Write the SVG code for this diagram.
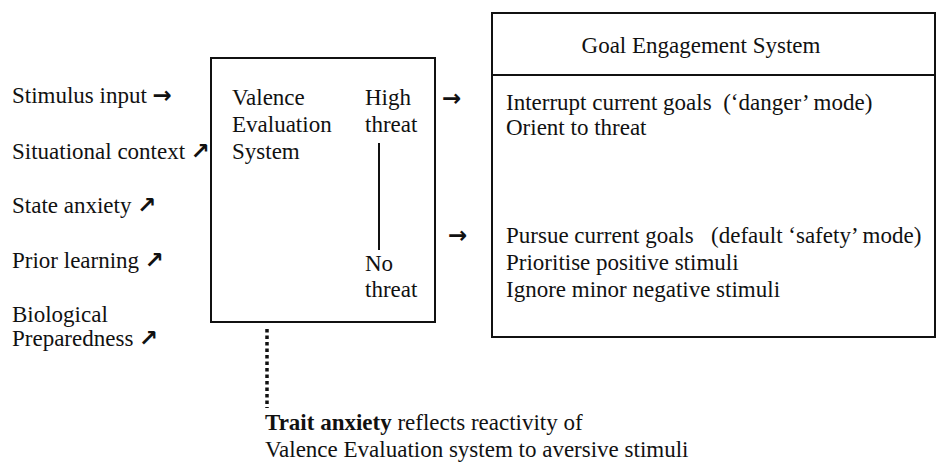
<svg xmlns="http://www.w3.org/2000/svg" width="937" height="467" viewBox="0 0 937 467">
  <style>
    text { font-family: "Liberation Serif", "DejaVu Serif", serif; font-size: 23px; fill: #111; }
    .arw { font-family: "DejaVu Sans", sans-serif; font-weight: bold; font-size: 23px; }
    .box { fill: none; stroke: #111; stroke-width: 2; }
    .line { stroke: #111; stroke-width: 2; fill: none; }
    .dots { stroke: #111; stroke-width: 3.5; stroke-dasharray: 3.5 3; fill: none; }
    .b { font-weight: bold; }
  </style>
  <rect width="937" height="467" fill="#fff"/>

  <!-- input factors feeding the evaluation system -->
  <g id="inputs">
    <text x="12" y="103">Stimulus input <tspan class="arw">→</tspan></text>
    <text x="12" y="159">Situational context <tspan class="arw">↗</tspan></text>
    <text x="12" y="213">State anxiety <tspan class="arw">↗</tspan></text>
    <text x="12" y="268">Prior learning <tspan class="arw">↗</tspan></text>
    <text x="12" y="322">Biological</text>
    <text x="12" y="346">Preparedness <tspan class="arw">↗</tspan></text>
  </g>

  <!-- valence evaluation system -->
  <g id="valence">
    <rect class="box" x="211" y="58" width="224" height="264"/>
    <text x="232" y="105">Valence</text>
    <text x="232" y="132">Evaluation</text>
    <text x="232" y="159">System</text>
    <text x="365" y="105">High</text>
    <text x="365" y="132">threat</text>
    <line class="line" x1="379" y1="143" x2="379" y2="250"/>
    <text x="365" y="271">No</text>
    <text x="365" y="297">threat</text>
  </g>

  <!-- goal engagement system -->
  <g id="goal">
    <rect class="box" x="492" y="13" width="443" height="324"/>
    <line class="line" x1="492" y1="75" x2="935" y2="75"/>
    <text x="701" y="53" text-anchor="middle">Goal Engagement System</text>
    <text x="506" y="110" xml:space="preserve">Interrupt current goals  (‘danger’ mode)</text>
    <text x="506" y="135">Orient to threat</text>
    <text x="506" y="243" xml:space="preserve">Pursue current goals   (default ‘safety’ mode)</text>
    <text x="506" y="270">Prioritise positive stimuli</text>
    <text x="506" y="297">Ignore minor negative stimuli</text>
  </g>

  <!-- trait anxiety note -->
  <g id="trait">
    <text x="265" y="430"><tspan class="b">Trait anxiety</tspan> reflects reactivity of</text>
    <text x="265" y="457">Valence Evaluation system to aversive stimuli</text>
  </g>

  <g id="connectors">
    <text class="arw" x="442" y="106">→</text>
    <text class="arw" x="448" y="243">→</text>
    <line class="dots" x1="267" y1="329" x2="267" y2="408"/>
  </g>
</svg>
